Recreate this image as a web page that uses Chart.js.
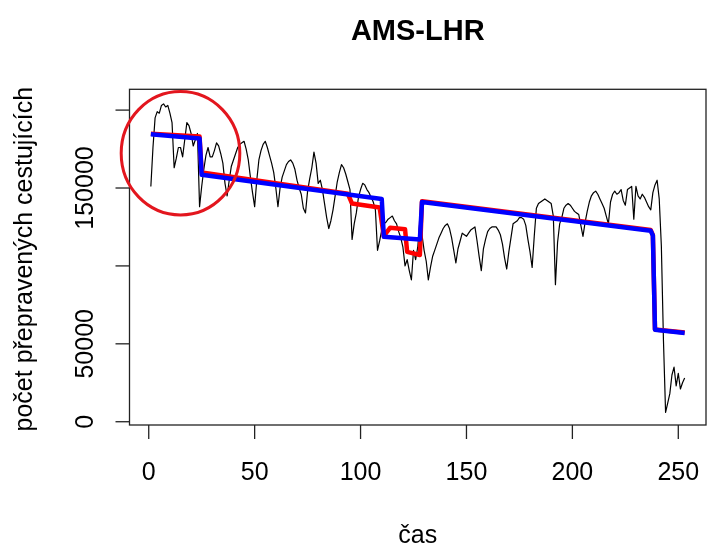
<!DOCTYPE html>
<html lang="cs">
<head>
<meta charset="UTF-8">
<title>AMS-LHR</title>
<script src="https://cdn.jsdelivr.net/npm/chart.js"></script>
<style>
  body { margin: 0; background: #fff; }
  canvas { display: block; }
</style>
</head>
<body>
<canvas id="chart" width="708" height="546"></canvas>
<script>
// observed weekly passengers, t = 1..253
const passengers = [
  151000, 176000, 195000, 199000, 198000, 203000, 204000, 202000, 203000, 198000,
  192000, 163000, 169000, 176000, 176000, 170000, 181000, 192000, 190000, 185000,
  177000, 181000, 185000, 138000, 151000, 162000, 171000, 176000, 170000, 170000,
  174000, 179000, 177000, 172000, 166000, 153000, 145000, 155000, 164000, 168000,
  172000, 176000, 178000, 179000, 180000, 175000, 168000, 157000, 147000, 138000,
  155000, 168000, 174000, 178000, 180000, 176000, 171000, 166000, 160000, 150000,
  138000, 150000, 157000, 161000, 165000, 167000, 168000, 166000, 162000, 155000,
  150000, 146000, 137000, 134000, 148000, 156000, 163000, 173000, 166000, 153000,
  155000, 149000, 140000, 131000, 124000, 129000, 136000, 145000, 154000, 160000,
  165000, 163000, 159000, 154000, 149000, 117000, 127000, 134000, 144000, 149000,
  153000, 152000, 149000, 147000, 144000, 141000, 136000, 110000, 116000, 123000,
  127000, 128000, 130000, 131000, 132000, 129000, 127000, 122000, 118000, 112000,
  100000, 104000, 97000, 91000, 110000, 104000, 112000, 129000, 120000, 110000,
  103000, 91000, 99000, 106000, 110000, 114000, 118000, 121000, 124000, 126000,
  127000, 124000, 118000, 110000, 102000, 111000, 116000, 121000, 120000, 119000,
  121000, 123000, 124000, 125000, 116000, 106000, 97000, 111000, 117000, 122000,
  124000, 125000, 125000, 125000, 123000, 120000, 114000, 105000, 98000, 109000,
  118000, 127000, 128000, 129000, 131000, 131000, 130000, 126000, 117000, 109000,
  99000, 119000, 137000, 140000, 141000, 142000, 143000, 142000, 141000, 140000,
  132000, 88000, 115000, 127000, 131000, 137000, 139000, 140000, 139000, 137000,
  135000, 134000, 133000, 126000, 119000, 128000, 135000, 141000, 145000, 147000,
  148000, 146000, 143000, 140000, 137000, 132000, 127000, 141000, 146000, 148000,
  146000, 147000, 149000, 142000, 139000, 149000, 150000, 151000, 130000, 151000,
  145000, 143000, 146000, 144000, 141000, 138000, 136000, 147000, 152000, 155000,
  143000, 113000, 52000, 6000, 12000, 18000, 30000, 35000, 23000, 31000,
  21000, 25000, 28000
];

// red fitted levels (breakpoints)
const redT = [1, 24, 25, 94, 96, 109, 111, 112, 114, 121, 122, 128, 129, 237, 238, 239, 253];
const redV = [184800, 183000, 160000, 146300, 140000, 137500, 119000, 121000, 124500, 123500, 109000, 107000, 141500, 123000, 119800, 59200, 57200];

// blue fitted levels (breakpoints)
const blueT = [1, 24, 25, 110, 111, 128, 129, 237, 238, 239, 253];
const blueV = [184500, 181800, 158500, 143000, 118700, 117000, 141000, 122500, 119500, 59000, 57000];

const xTicks = [0, 50, 100, 150, 200, 250];
const yTicks = [0, 50000, 100000, 150000, 200000];
const yTickLabels = ['0', '50000', '', '150000', ''];

const FONT = '"Liberation Sans", Arial, sans-serif';

// R-style box, ticks, labels and the red circle
const rStyle = {
  id: 'rStyle',
  afterDraw(chart) {
    const { ctx, chartArea: a, scales: { x, y } } = chart;
    ctx.save();

    ctx.strokeStyle = '#222';
    ctx.lineWidth = 1.3;
    ctx.strokeRect(a.left, a.top, a.right - a.left, a.bottom - a.top);

    ctx.fillStyle = '#000';
    ctx.font = '25px ' + FONT;

    // x axis
    ctx.textAlign = 'center';
    ctx.textBaseline = 'alphabetic';
    xTicks.forEach(t => {
      const px = x.getPixelForValue(t);
      ctx.beginPath();
      ctx.moveTo(px, a.bottom);
      ctx.lineTo(px, a.bottom + 14);
      ctx.stroke();
      ctx.fillText(String(t), px, 480);
    });

    // y axis
    yTicks.forEach((v, i) => {
      const py = y.getPixelForValue(v);
      ctx.beginPath();
      ctx.moveTo(a.left, py);
      ctx.lineTo(a.left - 14, py);
      ctx.stroke();
      if (yTickLabels[i]) {
        ctx.save();
        ctx.translate(93, py);
        ctx.rotate(-Math.PI / 2);
        ctx.fillText(yTickLabels[i], 0, 0);
        ctx.restore();
      }
    });

    // axis titles
    ctx.fillText('čas', (a.left + a.right) / 2, 543);
    ctx.save();
    ctx.translate(32, (a.top + a.bottom) / 2 + 2);
    ctx.rotate(-Math.PI / 2);
    ctx.fillText('počet přepravených cestujících', 0, 0);
    ctx.restore();

    // main title
    ctx.font = 'bold 29px ' + FONT;
    ctx.fillText('AMS-LHR', (a.left + a.right) / 2, 40);

    // red circle around the start
    const cx = x.getPixelForValue(15);
    const cy = y.getPixelForValue(172300);
    const rx = x.getPixelForValue(15 + 28) - cx;
    const ry = cy - y.getPixelForValue(172300 + 39600);
    ctx.strokeStyle = '#e3161e';
    ctx.lineWidth = 3;
    ctx.beginPath();
    ctx.ellipse(cx, cy, rx, ry, 0, 0, Math.PI * 2);
    ctx.stroke();

    ctx.restore();
  }
};

new Chart(document.getElementById('chart'), {
  type: 'line',
  data: {
    datasets: [
      {
        data: blueT.map((t, i) => ({ x: t, y: blueV[i] })),
        borderColor: '#0000ff',
        borderWidth: 4.5,
        order: 0
      },
      {
        data: redT.map((t, i) => ({ x: t, y: redV[i] })),
        borderColor: '#ff0000',
        borderWidth: 4.5,
        order: 1
      },
      {
        data: passengers.map((v, i) => ({ x: i + 1, y: v })),
        borderColor: '#000000',
        borderWidth: 1.2,
        order: 2
      }
    ]
  },
  options: {
    responsive: false,
    animation: false,
    events: [],
    layout: { padding: { left: 129.5, top: 89.3, right: 2, bottom: 121 } },
    elements: { point: { radius: 0 }, line: { tension: 0, borderJoinStyle: 'round' } },
    plugins: { legend: { display: false }, title: { display: false }, tooltip: { enabled: false } },
    scales: {
      x: { type: 'linear', display: false, min: -9.08, max: 263.08 },
      y: { type: 'linear', display: false, min: -2100, max: 213350 }
    }
  },
  plugins: [rStyle]
});
</script>
</body>
</html>
